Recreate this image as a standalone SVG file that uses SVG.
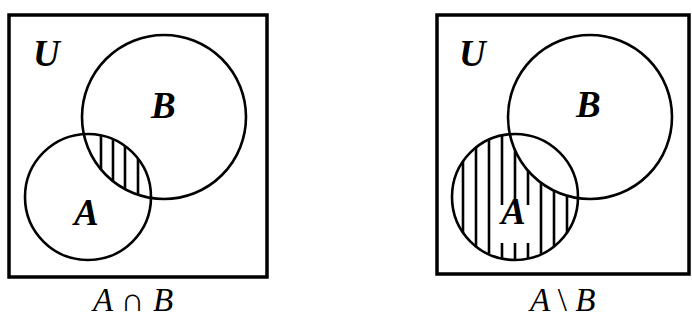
<svg xmlns="http://www.w3.org/2000/svg" width="692" height="320" viewBox="0 0 692 320">
<style>
.box{fill:none;stroke:#000;stroke-width:3.5}
.c{fill:none;stroke:#000;stroke-width:2.6}
.h{stroke:#000;stroke-width:2.6}
.lbl{font-family:"Liberation Serif","Times New Roman",serif;font-style:italic;font-weight:bold;font-size:37px;fill:#000}
.cap{font-family:"Liberation Serif","Times New Roman",serif;font-style:italic;font-size:33px;fill:#000}
.op{font-style:normal}
</style>
<defs>
<clipPath id="clipA1"><circle cx="88" cy="197" r="63"/></clipPath>
<clipPath id="clipB1"><circle cx="164" cy="117" r="82"/></clipPath>
<clipPath id="clipA2"><circle cx="515" cy="197" r="63"/></clipPath>
<mask id="notB2" maskUnits="userSpaceOnUse" x="0" y="0" width="692" height="320">
<rect x="0" y="0" width="692" height="320" fill="#fff"/>
<circle cx="590" cy="117" r="82" fill="#000"/>
<rect x="495" y="205" width="40" height="38" fill="#000"/>
</mask>
</defs>
<g id="left-diagram">
<rect class="box" x="9" y="15" width="258" height="262"/>
<g id="left-hatch" clip-path="url(#clipA1)"><g clip-path="url(#clipB1)">
<line class="h" x1="101" y1="120" x2="101" y2="210"/>
<line class="h" x1="113" y1="120" x2="113" y2="210"/>
<line class="h" x1="125" y1="120" x2="125" y2="210"/>
<line class="h" x1="138" y1="120" x2="138" y2="210"/>
</g></g>
<circle id="left-B" class="c" cx="164" cy="117" r="82"/>
<circle id="left-A" class="c" cx="88" cy="197" r="63"/>
<text class="lbl" x="33" y="66">U</text>
<text class="lbl" x="151" y="118">B</text>
<text class="lbl" x="74" y="225">A</text>
<text class="cap" x="93" y="311">A <tspan class="op">∩</tspan> B</text>
</g>
<g id="right-diagram">
<rect class="box" x="437" y="15" width="252" height="259"/>
<g id="right-hatch" clip-path="url(#clipA2)"><g mask="url(#notB2)">
<line class="h" x1="463" y1="130" x2="463" y2="265"/>
<line class="h" x1="476" y1="130" x2="476" y2="265"/>
<line class="h" x1="489" y1="130" x2="489" y2="265"/>
<line class="h" x1="502" y1="130" x2="502" y2="265"/>
<line class="h" x1="515" y1="130" x2="515" y2="265"/>
<line class="h" x1="528" y1="130" x2="528" y2="265"/>
<line class="h" x1="541" y1="130" x2="541" y2="265"/>
<line class="h" x1="554" y1="130" x2="554" y2="265"/>
<line class="h" x1="567" y1="130" x2="567" y2="265"/>
</g></g>
<circle id="right-B" class="c" cx="590" cy="117" r="82"/>
<circle id="right-A" class="c" cx="515" cy="197" r="63"/>
<text class="lbl" x="459" y="66">U</text>
<text class="lbl" x="576" y="117">B</text>
<text class="lbl" x="501" y="224">A</text>
<text class="cap" x="530" y="311">A <tspan class="op">\</tspan> B</text>
</g>
</svg>
